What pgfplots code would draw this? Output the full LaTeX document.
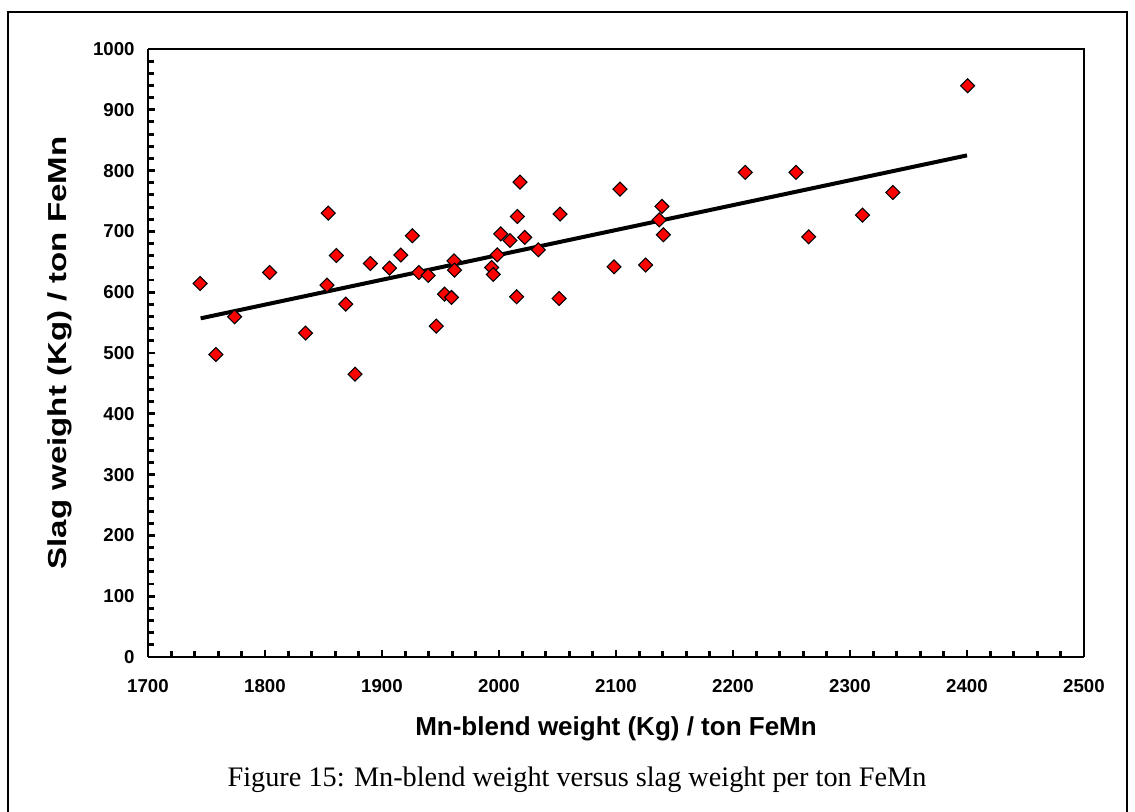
\documentclass[border=0pt]{standalone}
\usepackage{graphicx}
\usepackage{pgfplots}
\pgfplotsset{compat=1.18}
\usepackage{fontspec}
\setmainfont{Liberation Sans}
\newfontfamily\capfont{Liberation Serif}
\pgfplotstableread{
x y
1744.5 614.3
1758.0 497.5
1774.0 559.5
1804.0 632.4
1834.7 532.7
1854.0 730.0
1853.0 611.7
1861.0 660.4
1869.0 580.4
1877.0 465.2
1890.0 647.2
1906.4 639.6
1916.1 661.0
1926.0 692.8
1931.5 632.4
1939.5 627.5
1946.3 544.2
1953.5 596.8
1959.4 591.3
1961.5 651.6
1962.0 636.3
1993.7 640.6
1995.1 629.1
1998.5 661.5
2001.5 696.0
2009.4 685.0
2015.7 724.5
2015.1 592.4
2018.0 781.0
2022.0 690.0
2033.6 669.7
2052.2 728.5
2051.4 589.6
2098.3 641.8
2103.4 769.6
2125.3 644.6
2137.0 719.0
2139.3 741.0
2140.5 694.4
2210.5 797.0
2253.9 797.0
2264.7 691.1
2310.7 726.8
2336.7 764.0
2400.5 939.6
}\datatable
\begin{document}
\begin{tikzpicture}[x=1pt,y=1pt]
\path[use as bounding box] (0,0) rectangle (851.25,609);
\draw[line width=0.8pt] (6,0) -- (6,600) -- (845.25,600) -- (845.25,0);
\begin{axis}[
  at={(111pt,116.25pt)}, anchor=south west,
  scale only axis, width=702pt, height=456pt,
  xmin=1700, xmax=2500, ymin=0, ymax=1000,
  xtick={1700,1800,...,2500}, ytick={0,100,...,1000},
  minor x tick num=4, minor y tick num=4,
  axis x line=bottom, axis y line=left,
  axis line style={-, line width=2.2pt},
  tick align=inside, major tick length=5.5pt, minor tick length=4.5pt,
  major tick style={line width=2.2pt, black},
  minor tick style={line width=2.2pt, black},
  /pgf/number format/assume math mode=true,
  /pgf/number format/set thousands separator={},
  tick label style={font=\fontsize{14}{16}\selectfont\bfseries},
  xticklabel style={yshift=-13pt},
  yticklabel style={xshift=-6.5pt},
  label style={font=\fontsize{19.5}{22}\selectfont\bfseries},
  xlabel={Mn-blend weight (Kg) / ton FeMn},
  ylabel={\scalebox{1.27}[1]{Slag weight (Kg) / ton FeMn}},
  xlabel style={at={(axis description cs:0.5,0)}, anchor=center, yshift=-54pt},
  ylabel style={at={(axis description cs:-0.094,0.5)}, anchor=center},
  clip=false,
]
\draw[line width=1.3pt] (rel axis cs:0,1) -- (rel axis cs:1,1) -- (rel axis cs:1,0);
\addplot[black, line width=3pt] coordinates {(1745,557) (2400,825)};
\addplot[only marks, mark=square*, mark size=3.7pt,
  mark options={rotate=45, fill=red, draw=black, line width=0.8pt}] table[x=x,y=y] {\datatable};
\end{axis}
\node[font=\capfont\fontsize{21.2}{25}\selectfont] at (432.75,24) {Figure 15: Mn-blend weight versus slag weight per ton FeMn};
\end{tikzpicture}
\end{document}
